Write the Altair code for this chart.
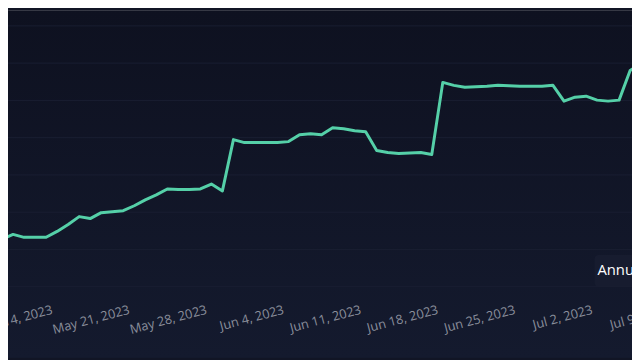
import altair as alt
import pandas as pd

# daily series (k = -1 .. 58)
values = [11.92, 12.72, 14.04, 13.25, 13.25, 13.25, 14.83, 16.69, 18.81, 18.28,
          19.87, 20.13, 20.40, 21.72, 23.31, 24.64, 26.23, 26.09, 26.09, 26.23,
          27.55, 25.70, 39.47, 38.68, 38.68, 38.68, 38.68, 38.94, 40.79, 41.06,
          40.79, 42.65, 42.38, 41.85, 41.59, 36.56, 36.03, 35.76, 35.89, 36.03,
          35.50, 54.83, 54.04, 53.51, 53.64, 53.77, 54.04, 53.91, 53.77, 53.77,
          53.77, 54.04, 49.80, 50.86, 51.13, 50.07, 49.80, 50.07, 58.01, 59.87]
dates = [d.strftime("%Y-%m-%dT%H:%M:%SZ")
         for d in pd.date_range("2023-05-08 15:00", periods=len(values), freq="D")]

tick_dates = [(5, 14), (5, 21), (5, 28), (6, 4), (6, 11), (6, 18), (6, 25), (7, 2), (7, 9)]
grid_values = [0, 10, 20, 30, 40, 50, 60, 70]
legend_text = ["Annualized Return"]

W, H = 700, 280

df = pd.DataFrame({"date": dates, "value": values})

x_scale = alt.Scale(
    type="utc",
    domain=[alt.DateTime(year=2023, month=5, date=10, hours=4, minutes=0, utc=True),
            alt.DateTime(year=2023, month=7, date=11, hours=21, minutes=20, utc=True)],
)
y_scale = alt.Scale(domain=[0, 74.2], nice=False, zero=False)

bg = alt.Chart(alt.Data(values=[{}])).mark_rect(
    color=alt.Gradient(
        gradient="linear",
        stops=[alt.GradientStop(color="#0e1120", offset=0),
               alt.GradientStop(color="#141a2e", offset=1)],
        x1=0, x2=0, y1=0, y2=1),
    clip=False,
).encode(x=alt.value(0), x2=alt.value(632), y=alt.value(0), y2=alt.value(352))

box = alt.Chart(alt.Data(values=[{}])).mark_rect(
    color="#171c2f", cornerRadius=4, clip=False
).encode(x=alt.value(594), x2=alt.value(700), y=alt.value(248), y2=alt.value(280))

rules = alt.Chart(pd.DataFrame({"g": grid_values})).mark_rule(
    color="#191e32", strokeWidth=1
).encode(y=alt.Y("g:Q", scale=y_scale, axis=None))

line = alt.Chart(df).mark_line(
    color="#55d0a8", strokeWidth=3, clip=True, strokeJoin="round", strokeCap="round"
).encode(
    x=alt.X("date:T", scale=x_scale, axis=alt.Axis(
        values=[alt.DateTime(year=2023, month=m, date=d, utc=True) for m, d in tick_dates],
        labelExpr="utcFormat(datum.value, '%b %-d, %Y')",
        labelAngle=-15, labelAlign="right", labelBaseline="top",
        labelFont="Open Sans", labelFontSize=13, labelColor="#8a8e9b",
        labelPadding=17, ticks=False, domain=False, grid=False,
        labelOverlap=False, title=None, zindex=1,
    )),
    y=alt.Y("value:Q", scale=y_scale, axis=None),
)

text = alt.Chart(pd.DataFrame({"t": legend_text})).mark_text(
    align="left", baseline="alphabetic", fontSize=15, font="Open Sans", color="#ffffff"
).encode(x=alt.value(597), y=alt.value(268), text="t:N")

chart = alt.layer(bg, box, rules, line, text).properties(
    width=W, height=H,
    padding={"left": 0, "top": 0, "right": -68, "bottom": 72},
    autosize=alt.AutoSizeParams(type="none"),
).configure_view(stroke=None).configure(background="#111525")

chart.save("out.html", embed_options={"renderer": "svg", "actions": False})
